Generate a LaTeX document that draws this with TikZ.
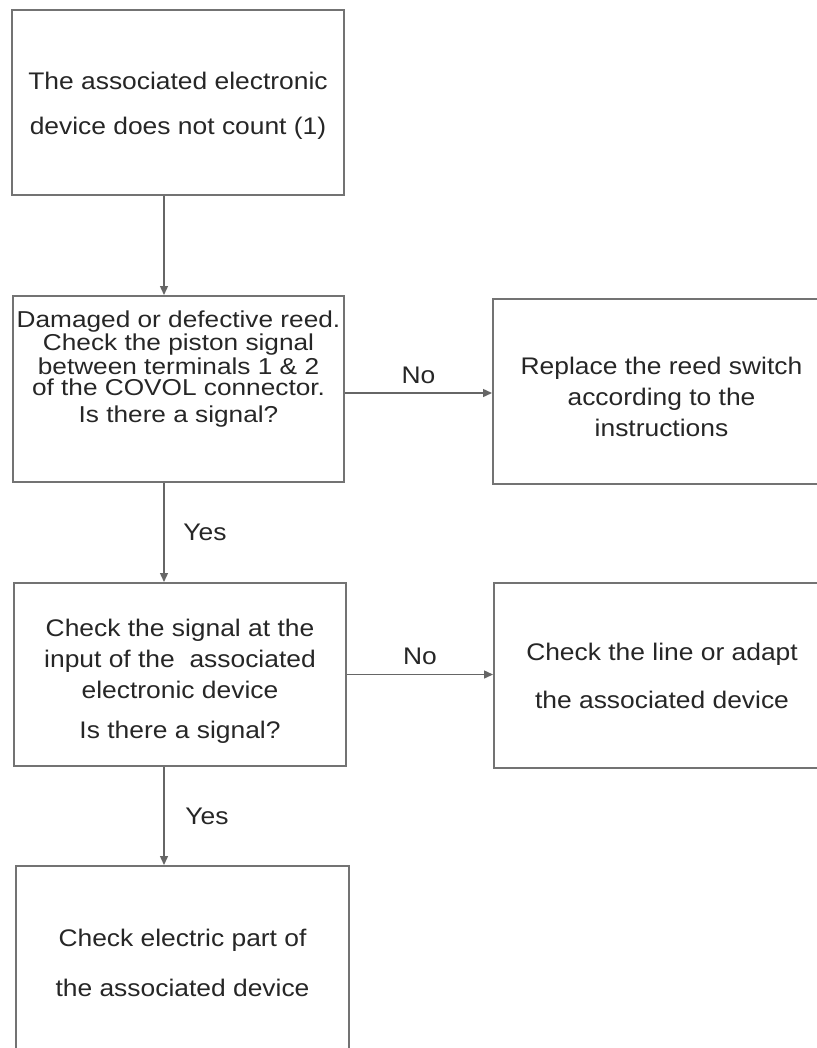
\documentclass[tikz,border=0pt]{standalone}
\usepackage{fontspec}
\setmainfont{Liberation Sans}[FakeStretch=1.1]
\newfontfamily\widesans{Liberation Sans}[FakeStretch=1.14]
\usetikzlibrary{arrows.meta,positioning}

\begin{document}
\begin{tikzpicture}[
    x=0.5pt, y=-0.5pt,
    >={Triangle[length=4.5pt,width=4pt]},
    block/.style={
      rectangle,
      draw=black!55,
      line width=1pt,
      text=black!85,
      align=center,
      minimum width=166pt,
      minimum height=92.5pt,
      inner sep=0pt
    },
    link/.style={->, draw=black!60, line width=0.7pt},
    tag/.style={text=black!85, font=\fontsize{12pt}{15pt}\selectfont}
  ]
  \useasboundingbox (0,0) rectangle (817,1048);
  \clip (0,0) rectangle (817,1048);

  % start box
  \draw (178,102.5) node[block,
    font=\fontsize{12pt}{22.5pt}\selectfont] (S) {\mbox{}\\[-11pt]The associated electronic\\device does not count (1)};
  % reed check
  \draw (178.5,389) node[block,
    minimum width=165.5pt,
    minimum height=93pt,
    font=\widesans\fontsize{11.5pt}{10.5pt}\selectfont] (D) {Damaged or defective reed.\\Check the piston signal\\between terminals 1 \& 2\\of the COVOL connector.\\[3pt]Is there a signal?\\[12pt]\mbox{}};
  \draw (661.5,391.5) node[block,
    minimum width=168.5pt,
    font=\fontsize{12pt}{15.5pt}\selectfont] (R) {\mbox{}\\[-1pt]Replace the reed switch\\according to the\\instructions};
  % input check
  \draw (180,674.5) node[block,
    minimum height=91.5pt,
    font=\fontsize{12pt}{15.5pt}\selectfont] (I) {\mbox{}\\[0pt]Check the signal at the\\input of the\ \ associated\\electronic device\\[4.5pt]Is there a signal?};
  \draw (662,675.5) node[block,
    minimum width=168pt,
    font=\fontsize{12pt}{24pt}\selectfont] (L) {Check the line or adapt\\the associated device};
  % last box
  \draw (182.5,958.5) node[block,
    minimum width=166.5pt,
    font=\fontsize{12pt}{25pt}\selectfont] (E) {\mbox{}\\[-12pt]Check electric part of\\the associated device};

  % lines
  \coordinate (col) at (164,0);
  \draw[link] (S.south -| col) -- (D.north -| col);
  \draw[link] (D.south -| col) -- (I.north -| col) node[midway, right=6pt, tag] (y1) {Yes};
  \draw[link] (I.south -| col) -- (E.north -| col) node[midway, right=7pt, tag] (y2) {Yes};
  \draw[link] ([yshift=-2pt]D.east) -- ([yshift=-2pt]D.east -| R.west) node[midway, above=1pt, tag] (n1) {No};
  \draw[link] (I.east) -- (I.east -| L.west) node[midway, above=1pt, tag] (n2) {No};
\end{tikzpicture}
\end{document}
